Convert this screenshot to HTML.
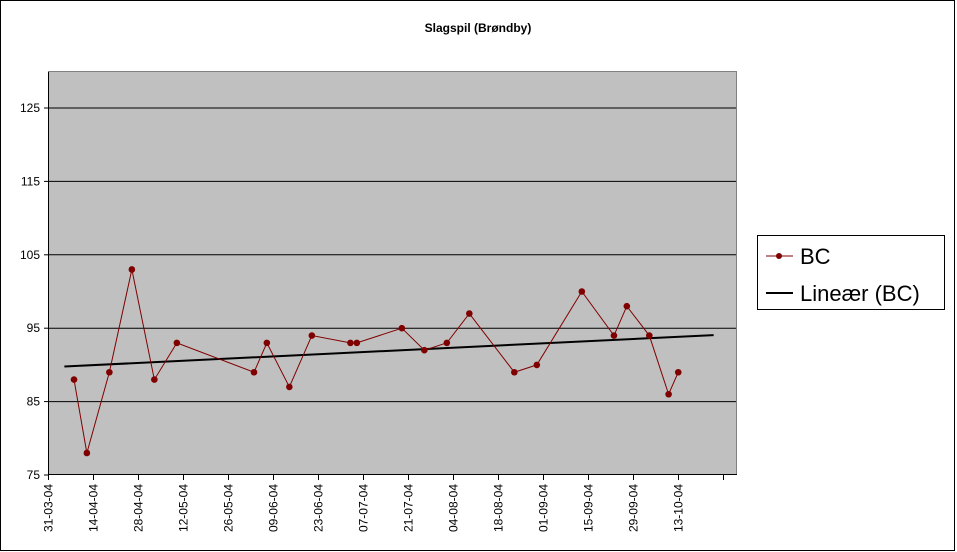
<!DOCTYPE html>
<html><head><meta charset="utf-8"><style>
body{margin:0;background:#fff;}
svg{display:block;font-family:"Liberation Sans",Arial,sans-serif;}
</style></head><body>
<svg width="957" height="552" viewBox="0 0 957 552" id="c">
<rect x="0.5" y="0.5" width="954" height="550" fill="#fff" stroke="#000"/>
<text x="478" y="32" text-anchor="middle" font-size="12" font-weight="bold">Slagspil (Brøndby)</text>
<rect x="48.5" y="71.5" width="688" height="403" fill="#C0C0C0" stroke="#808080"/>
<g id="grid"></g><g id="axes"></g><g id="trend"></g><g id="series"></g>
<g>
<rect x="757.5" y="235.5" width="187" height="74" fill="#fff" stroke="#000"/>
<line x1="766" y1="256" x2="793" y2="256" stroke="#800000" stroke-width="1"/>
<circle cx="779" cy="256" r="3" fill="#800000"/>
<text x="800" y="264" font-size="22">BC</text>
<line x1="766" y1="293" x2="793" y2="293" stroke="#000" stroke-width="2"/>
<text x="800" y="301" font-size="22">Lineær (BC)</text>
</g>
</svg>
<script>
const dayOffsets=[8,12,19,26,33,40,64,68,75,82,94,96,110,117,124,131,145,152,166,176,180,187,193,196];
const values=[88,78,89,103,88,93,89,93,87,94,93,93,95,92,93,97,89,90,100,94,98,94,86,89];
const yTicks=[75,85,95,105,115,125];
const xTickDays=[0,14,28,42,56,70,84,98,112,126,140,154,168,182,196,210];
const trendRange=[5,207];
const NS="http://www.w3.org/2000/svg";
const x0=48.3,pxDay=3.214,yBase=475,pxUnit=7.34;
function X(d){return x0+d*pxDay;}
function Y(v){return yBase-(v-75)*pxUnit;}
function mk(t,a,p){const e=document.createElementNS(NS,t);for(const k in a)e.setAttribute(k,a[k]);p.appendChild(e);return e;}
const grid=document.getElementById('grid'),axes=document.getElementById('axes');
yTicks.forEach(v=>{
  if(v>75){const l=mk('line',{x1:49,x2:736,y1:Y(v),y2:Y(v),stroke:'#000'},grid);
  
  }
  const tk=mk('line',{x1:44,x2:49,y1:Y(v),y2:Y(v),stroke:'#000'},axes);
  
  
  const t=mk('text',{x:40,y:Y(v)+4,'text-anchor':'end','font-size':12},axes);t.textContent=v;
  
  
});
const ya=mk('line',{x1:48.5,x2:48.5,y1:72,y2:475,stroke:'#000'},axes);


const xa=mk('line',{x1:48,x2:737,y1:474.5,y2:474.5,stroke:'#000'},axes);


const start=new Date(2004,2,31);
function fmt(d){const p=n=>String(n).padStart(2,'0');return p(d.getDate())+'-'+p(d.getMonth()+1)+'-'+p(d.getFullYear()%100);}
xTickDays.forEach(d=>{
  const x=Math.round(X(d))+0.5;
  const tk=mk('line',{x1:x,x2:x,y1:475,y2:480,stroke:'#000'},axes);
  
  
  if(d>200)return;
  const dt=new Date(start.getTime());dt.setDate(dt.getDate()+d);
  const t=mk('text',{x:0,y:0,'text-anchor':'end','font-size':12,transform:`translate(${x+4},484) rotate(-90)`},axes);
  t.textContent=fmt(dt);
  
  
});
// regression
const n=values.length;let sx=0,sy=0,sxx=0,sxy=0;
for(let i=0;i<n;i++){sx+=dayOffsets[i];sy+=values[i];sxx+=dayOffsets[i]**2;sxy+=dayOffsets[i]*values[i];}
const b=(n*sxy-sx*sy)/(n*sxx-sx*sx),a=(sy-b*sx)/n;
const tl=mk('line',{x1:X(trendRange[0]),y1:Y(a+b*trendRange[0]),x2:X(trendRange[1]),y2:Y(a+b*trendRange[1]),stroke:'#000','stroke-width':2},document.getElementById('trend'));


const ser=document.getElementById('series');
const pl=mk('polyline',{points:dayOffsets.map((d,i)=>X(d)+','+Y(values[i])).join(' '),fill:'none',stroke:'#800000','stroke-width':1},ser);


dayOffsets.forEach((d,i)=>{
  const c=mk('circle',{cx:X(d),cy:Y(values[i]),r:3.3,fill:'#800000'},ser);
  
  
});
</script>
</body></html>
